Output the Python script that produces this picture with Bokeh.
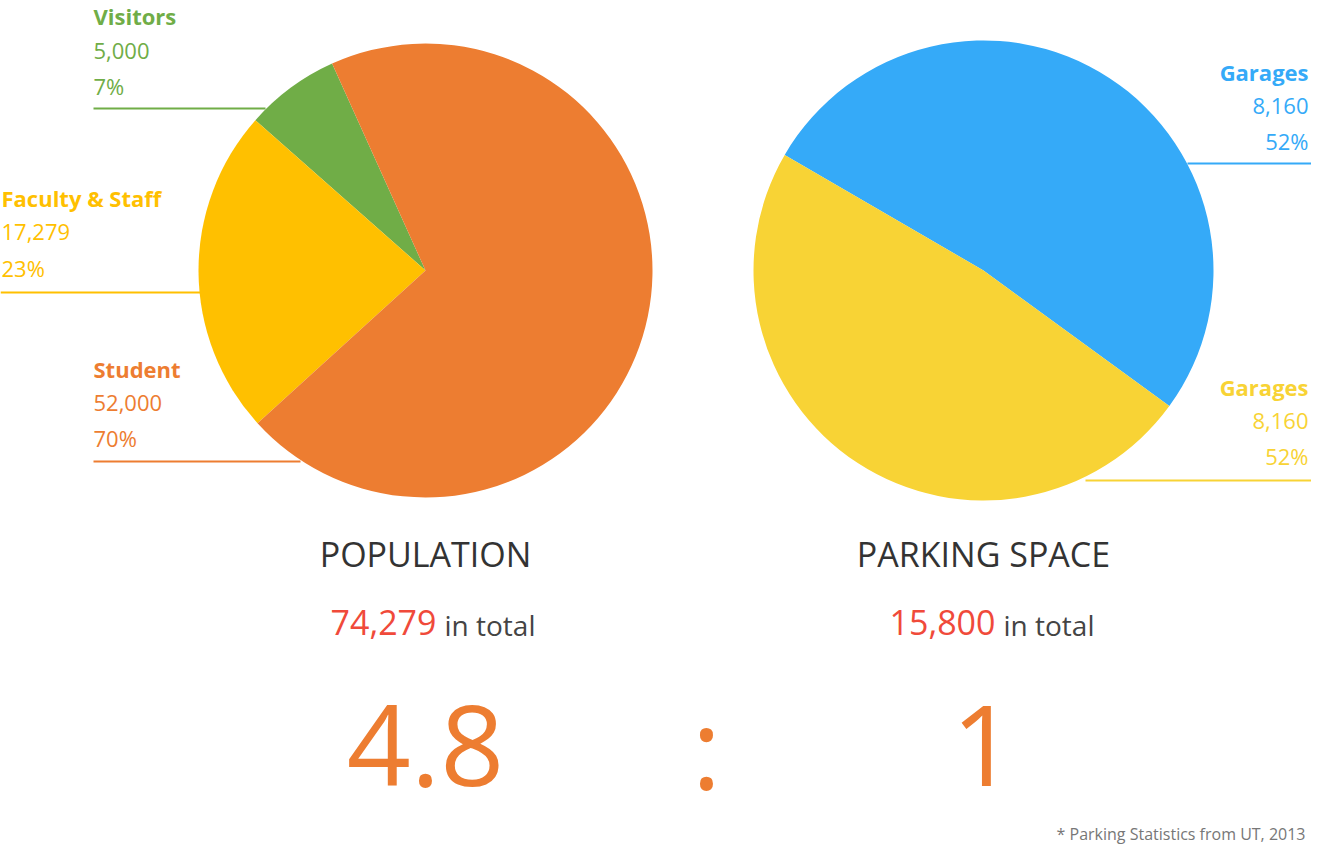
import math
from bokeh.plotting import figure
from bokeh.models import Range1d
from bokeh.core.properties import value
from bokeh.embed import file_html
from bokeh.resources import INLINE

# data
pop_labels = ["Visitors", "Faculty & Staff", "Student"]
pop_values = [5000, 17279, 52000]
pop_pct = ["7%", "23%", "70%"]
pop_colors = ["#70AD47", "#FFC000", "#ED7D31"]

park_labels = ["Garages", "Garages"]
park_values = [8160, 7640]
park_shown = ["8,160", "8,160"]
park_pct = ["52%", "52%"]
park_colors = ["#35AAF8", "#F8D335"]

pop_total = "74,279"
park_total = "15,800"
ratio_left, ratio_right = "4.8", "1"

FONT = value("Open Sans")
H = 852


def Y(ry):
    return H - ry


p = figure(width=1311, height=844, x_range=Range1d(0, 1311), y_range=Range1d(8, 852),
           output_backend="svg", toolbar_location=None, min_border=0)
p.axis.visible = False
p.grid.visible = False
p.outline_line_color = None


def pie(cx, cy, r, values, colors, start_deg):
    total = sum(values)
    a = math.radians(start_deg)
    for v, c in zip(values, colors):
        b = a + 2 * math.pi * v / total
        p.wedge(x=cx, y=Y(cy), radius=r, start_angle=a, end_angle=b, color=c, line_color=None)
        a = b


pie(425, 270, 227, pop_values, pop_colors, 114.3)
pie(983, 270, 230, park_values, park_colors, -36.1)


def label(x, ys, texts, color, align):
    for i, (yy, t) in enumerate(zip(ys, texts)):
        p.text(x=[x], y=[Y(yy)], text=[t], text_color=color, text_font=FONT,
               text_font_size="22px", text_font_style="bold" if i == 0 else "normal",
               text_align=align, text_baseline="middle")


def fmt(v):
    return f"{v:,}"


# left labels
label(93, [15, 50, 85], [pop_labels[0], fmt(pop_values[0]), pop_pct[0]], pop_colors[0], "left")
p.line([93, 265], [Y(108)] * 2, color=pop_colors[0], line_width=2)
label(1, [197, 231, 267], [pop_labels[1], fmt(pop_values[1]), pop_pct[1]], pop_colors[1], "left")
p.line([0, 200], [Y(292)] * 2, color=pop_colors[1], line_width=2)
label(93, [368, 402, 437], [pop_labels[2], fmt(pop_values[2]), pop_pct[2]], pop_colors[2], "left")
p.line([93, 300], [Y(461)] * 2, color=pop_colors[2], line_width=2)

# right labels
label(1308, [71, 105, 140], [park_labels[0], park_shown[0], park_pct[0]], park_colors[0], "right")
p.line([1187, 1311], [Y(163)] * 2, color=park_colors[0], line_width=2)
label(1308, [386, 420, 455], [park_labels[1], park_shown[1], park_pct[1]], park_colors[1], "right")
p.line([1085, 1311], [Y(480)] * 2, color=park_colors[1], line_width=2)

# titles
for cx, title, tot, gap in [(425, "POPULATION", pop_total, 436), (983, "PARKING SPACE", park_total, 995)]:
    p.text(x=[cx], y=[Y(553)], text=[title], text_color="#333333", text_font=FONT,
           text_font_size="34px", text_align="center", text_baseline="middle")
    p.text(x=[gap], y=[Y(622)], text=[tot], text_color="#F04A3A", text_font=FONT,
           text_font_size="34px", text_align="right", text_baseline="middle")
    p.text(x=[gap + 8], y=[Y(624)], text=["in total"], text_color="#444444", text_font=FONT,
           text_font_size="28px", text_align="left", text_baseline="middle")

for x, t in [(425, ratio_left), (706, ":"), (983, ratio_right)]:
    p.text(x=[x], y=[Y(745)], text=[t], text_color="#ED7D31", text_font=FONT,
           text_font_size="112px", text_align="center", text_baseline="middle")

p.text(x=[1305], y=[Y(833)], text=["* Parking Statistics from UT, 2013"], text_color="#777777",
       text_font=FONT, text_font_size="16px", text_align="right", text_baseline="middle")

open("out.html", "w").write(file_html(p, INLINE))
